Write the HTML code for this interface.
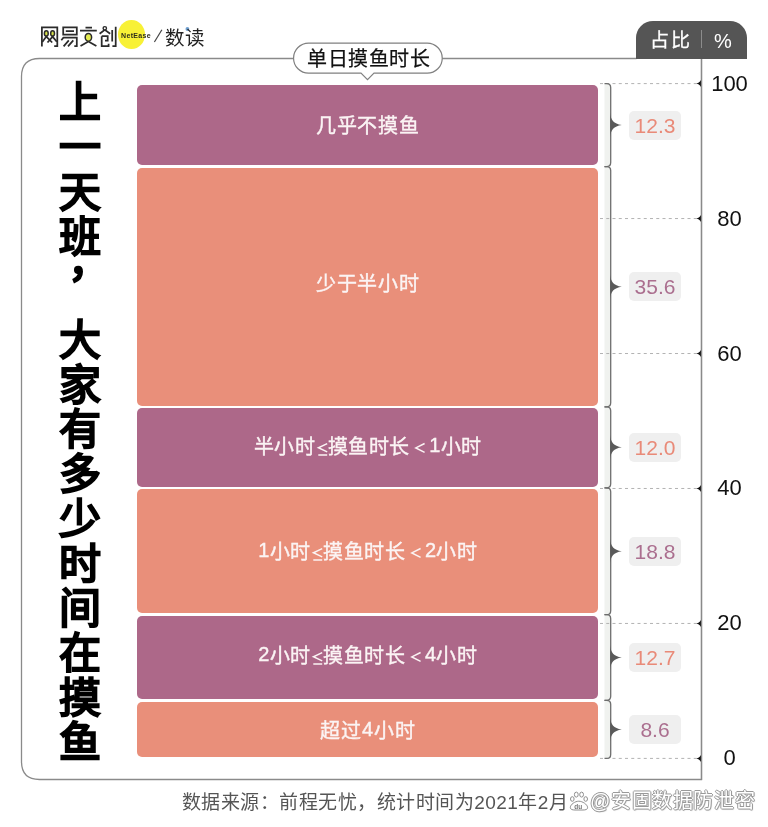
<!DOCTYPE html>
<html lang="zh-CN"><head><meta charset="utf-8"><title>chart</title>
<style>
html,body{margin:0;padding:0;background:#fff;}
body{width:768px;height:827px;position:relative;overflow:hidden;font-family:"Liberation Sans",sans-serif;-webkit-font-smoothing:antialiased;}
.a,.bt,.lb,.ax,.tt{will-change:transform;}
.a{position:absolute;}
svg{position:absolute;left:0;top:0;}
.bar{position:absolute;left:137px;width:461px;border-radius:5px;}
.bt{position:absolute;left:137px;width:461px;height:30px;line-height:30px;text-align:center;color:#fbf4f4;font-size:20px;letter-spacing:0.8px;text-indent:0.8px;-webkit-text-stroke:0.4px #fbf4f4;white-space:pre;}
.lb{position:absolute;left:628.8px;width:52px;height:29px;line-height:29px;border-radius:5px;background:#efefef;text-align:center;font-size:21px;}
.dg{position:relative;top:-2px;}
.le{display:inline-block;position:relative;width:13px;height:1px;}
.lt{display:inline-block;position:relative;width:20px;height:1px;}
.le svg,.lt svg{position:absolute;left:0;top:-12px;}
.ax{position:absolute;left:705px;width:49px;height:30px;line-height:30px;text-align:center;font-size:22px;color:#111;}
.tt{position:absolute;left:57px;width:46px;height:50px;line-height:50px;text-align:center;font-size:42px;color:#000;-webkit-text-stroke:2.3px #000;}
</style></head><body>
<svg width="768" height="827" viewBox="0 0 768 827">
<path d="M636.5 58.5 L39.5 58.5 Q21.5 58.5 21.5 76.5 L21.5 761.5 Q21.5 779.5 39.5 779.5 L701.5 779.5 L701.5 58" fill="none" stroke="#8a8a8a" stroke-width="1.3"/>
<rect x="604.5" y="84.1" width="6" height="673.8" fill="#f0f2ef"/>
<line x1="600" y1="83.60" x2="697" y2="83.60" stroke="#b2b2b2" stroke-width="1" stroke-dasharray="3 3.25"/>
<path d="M701.5 78.10 Q701 82.40 696.4 83.60 Q701 84.80 701.5 89.10 Z" fill="#111"/>
<line x1="600" y1="218.56" x2="697" y2="218.56" stroke="#b2b2b2" stroke-width="1" stroke-dasharray="3 3.25"/>
<path d="M701.5 213.06 Q701 217.36 696.4 218.56 Q701 219.76 701.5 224.06 Z" fill="#111"/>
<line x1="600" y1="353.52" x2="697" y2="353.52" stroke="#b2b2b2" stroke-width="1" stroke-dasharray="3 3.25"/>
<path d="M701.5 348.02 Q701 352.32 696.4 353.52 Q701 354.72 701.5 359.02 Z" fill="#111"/>
<line x1="600" y1="488.48" x2="697" y2="488.48" stroke="#b2b2b2" stroke-width="1" stroke-dasharray="3 3.25"/>
<path d="M701.5 482.98 Q701 487.28 696.4 488.48 Q701 489.68 701.5 493.98 Z" fill="#111"/>
<line x1="600" y1="623.44" x2="697" y2="623.44" stroke="#b2b2b2" stroke-width="1" stroke-dasharray="3 3.25"/>
<path d="M701.5 617.94 Q701 622.24 696.4 623.44 Q701 624.64 701.5 628.94 Z" fill="#111"/>
<line x1="600" y1="758.40" x2="697" y2="758.40" stroke="#b2b2b2" stroke-width="1" stroke-dasharray="3 3.25"/>
<path d="M701.5 752.90 Q701 757.20 696.4 758.40 Q701 759.60 701.5 763.90 Z" fill="#111"/>
<path d="M604.5 83.60 L606.7 83.60 Q610.7 83.60 610.7 87.60 L610.7 162.60 Q610.7 166.60 606.7 166.60 L604.5 166.60" fill="none" stroke="#6e6e6e" stroke-width="1.3"/>
<path d="M610.2 113.10 C610.8 120.10 613.5 123.80 621.8 125.10 C613.5 126.40 610.8 130.10 610.2 137.10 Z" fill="#5a5a5a"/>
<path d="M604.5 166.60 L606.7 166.60 Q610.7 166.60 610.7 170.60 L610.7 402.83 Q610.7 406.83 606.7 406.83 L604.5 406.83" fill="none" stroke="#6e6e6e" stroke-width="1.3"/>
<path d="M610.2 274.71 C610.8 281.71 613.5 285.41 621.8 286.71 C613.5 288.01 610.8 291.71 610.2 298.71 Z" fill="#5a5a5a"/>
<path d="M604.5 406.83 L606.7 406.83 Q610.7 406.83 610.7 410.83 L610.7 483.81 Q610.7 487.81 606.7 487.81 L604.5 487.81" fill="none" stroke="#6e6e6e" stroke-width="1.3"/>
<path d="M610.2 435.32 C610.8 442.32 613.5 446.02 621.8 447.32 C613.5 448.62 610.8 452.32 610.2 459.32 Z" fill="#5a5a5a"/>
<path d="M604.5 487.81 L606.7 487.81 Q610.7 487.81 610.7 491.81 L610.7 610.67 Q610.7 614.67 606.7 614.67 L604.5 614.67" fill="none" stroke="#6e6e6e" stroke-width="1.3"/>
<path d="M610.2 539.24 C610.8 546.24 613.5 549.94 621.8 551.24 C613.5 552.54 610.8 556.24 610.2 563.24 Z" fill="#5a5a5a"/>
<path d="M604.5 614.67 L606.7 614.67 Q610.7 614.67 610.7 618.67 L610.7 696.37 Q610.7 700.37 606.7 700.37 L604.5 700.37" fill="none" stroke="#6e6e6e" stroke-width="1.3"/>
<path d="M610.2 645.52 C610.8 652.52 613.5 656.22 621.8 657.52 C613.5 658.82 610.8 662.52 610.2 669.52 Z" fill="#5a5a5a"/>
<path d="M604.5 700.37 L606.7 700.37 Q610.7 700.37 610.7 704.37 L610.7 754.40 Q610.7 758.40 606.7 758.40 L604.5 758.40" fill="none" stroke="#6e6e6e" stroke-width="1.3"/>
<path d="M610.2 717.38 C610.8 724.38 613.5 728.08 621.8 729.38 C613.5 730.68 610.8 734.38 610.2 741.38 Z" fill="#5a5a5a"/>
<line x1="701.5" y1="58" x2="701.5" y2="780" stroke="#8a8a8a" stroke-width="1.3"/>
</svg>
<div class="bar" style="top:84.80px;height:80.60px;background:#ad6889"></div>
<div class="bt" style="top:111.10px;">几乎不摸鱼</div>
<div class="lb" style="top:110.60px;color:#e98a78">12.3</div>
<div class="bar" style="top:167.80px;height:237.83px;background:#e98f7a"></div>
<div class="bt" style="top:269.31px;">少于半小时</div>
<div class="lb" style="top:272.21px;color:#ab6f8f">35.6</div>
<div class="bar" style="top:408.03px;height:78.58px;background:#ad6889"></div>
<div class="bt" style="top:432.42px;letter-spacing:0.35px;text-indent:0.35px;">半小时<span class="le"><svg width="14" height="16" viewBox="0 0 14 16"><path d="M12.2 2.6 L3.4 6.75 L12.2 10.9 M3.3 14 L12.2 14" fill="none" stroke="#fbf4f4" stroke-width="1.5"/></svg></span>摸鱼时长<span class="lt"><svg width="20" height="16" viewBox="0 0 20 16"><path d="M15.6 2.5 L6.8 6.9 L15.6 11.3" fill="none" stroke="#fbf4f4" stroke-width="1.5"/></svg></span><span class="dg">1</span>小时</div>
<div class="lb" style="top:432.82px;color:#e98a78">12.0</div>
<div class="bar" style="top:489.01px;height:124.46px;background:#e98f7a"></div>
<div class="bt" style="top:536.84px;letter-spacing:0.35px;text-indent:0.35px;"><span class="dg">1</span>小时<span class="le"><svg width="14" height="16" viewBox="0 0 14 16"><path d="M12.2 2.6 L3.4 6.75 L12.2 10.9 M3.3 14 L12.2 14" fill="none" stroke="#fbf4f4" stroke-width="1.5"/></svg></span>摸鱼时长<span class="lt"><svg width="20" height="16" viewBox="0 0 20 16"><path d="M15.6 2.5 L6.8 6.9 L15.6 11.3" fill="none" stroke="#fbf4f4" stroke-width="1.5"/></svg></span><span class="dg">2</span>小时</div>
<div class="lb" style="top:536.74px;color:#ab6f8f">18.8</div>
<div class="bar" style="top:615.87px;height:83.30px;background:#ad6889"></div>
<div class="bt" style="top:640.52px;letter-spacing:0.35px;text-indent:0.35px;"><span class="dg">2</span>小时<span class="le"><svg width="14" height="16" viewBox="0 0 14 16"><path d="M12.2 2.6 L3.4 6.75 L12.2 10.9 M3.3 14 L12.2 14" fill="none" stroke="#fbf4f4" stroke-width="1.5"/></svg></span>摸鱼时长<span class="lt"><svg width="20" height="16" viewBox="0 0 20 16"><path d="M15.6 2.5 L6.8 6.9 L15.6 11.3" fill="none" stroke="#fbf4f4" stroke-width="1.5"/></svg></span><span class="dg">4</span>小时</div>
<div class="lb" style="top:643.02px;color:#e98a78">12.7</div>
<div class="bar" style="top:701.57px;height:55.63px;background:#e98f7a"></div>
<div class="bt" style="top:715.78px;">超过<span class="dg">4</span>小时</div>
<div class="lb" style="top:714.88px;color:#ab6f8f">8.6</div>
<div class="ax" style="top:68.60px">100</div>
<div class="ax" style="top:203.56px">80</div>
<div class="ax" style="top:338.52px">60</div>
<div class="ax" style="top:473.48px">40</div>
<div class="ax" style="top:608.44px">20</div>
<div class="ax" style="top:743.40px">0</div>
<div class="tt" style="top:77.80px">上</div>
<div class="tt" style="top:122.70px">一</div>
<div class="tt" style="top:167.60px">天</div>
<div class="tt" style="top:212.50px">班</div>
<div class="tt" style="top:237.5px;left:66px">，</div>
<div class="tt" style="top:316.00px">大</div>
<div class="tt" style="top:360.70px">家</div>
<div class="tt" style="top:405.40px">有</div>
<div class="tt" style="top:450.10px">多</div>
<div class="tt" style="top:494.80px">少</div>
<div class="tt" style="top:539.50px">时</div>
<div class="tt" style="top:584.20px">间</div>
<div class="tt" style="top:628.90px">在</div>
<div class="tt" style="top:673.60px">摸</div>
<div class="tt" style="top:718.30px">鱼</div>
<!-- tab -->
<div class="a" style="left:636.4px;top:20.5px;width:110.7px;height:37.7px;background:#555;border-radius:17px 17px 0 0;"></div>
<div class="a" style="left:650px;top:25.5px;height:30px;line-height:30px;font-size:19px;letter-spacing:2px;color:#fff;-webkit-text-stroke:0.3px #fff">占比</div>
<div class="a" style="left:701px;top:30px;width:1px;height:18px;background:#8c8c8c"></div>
<div class="a" style="left:714px;top:25.5px;height:30px;line-height:30px;font-size:20px;color:#fff">%</div>
<!-- bubble -->
<svg width="768" height="827" viewBox="0 0 768 827" style="pointer-events:none">
<path d="M308.6 43.1 L427.2 43.1 A15.05 15.05 0 0 1 427.2 73.2 L374 73.2 L367.5 79.7 L361 73.2 L308.6 73.2 A15.05 15.05 0 0 1 308.6 43.1 Z" fill="#fff" stroke="#808080" stroke-width="1.2"/>
</svg>
<div class="a" style="left:293.5px;top:43.5px;width:149px;height:30px;line-height:30px;text-align:center;font-size:20px;letter-spacing:0.6px;text-indent:0.6px;color:#111;-webkit-text-stroke:0.25px #111">单日摸鱼时长</div>
<!-- logo -->
<div class="a" style="left:117.5px;top:20.2px;width:27px;height:29.3px;border-radius:50%;background:#f8f136"></div>
<svg width="768" height="827" style="pointer-events:none">
<g fill="none" stroke="#2b2b2b" stroke-width="1.75" stroke-linecap="butt" stroke-linejoin="miter">
<path d="M41.9 46.6 L41.9 27.3 L57.3 27.3 L57.3 46.1 L54.2 46.1"/>
<path d="M42.3 42 L46.3 36.6 L52.2 42.5 M47.5 42.5 L52.6 36.6 L56.8 41.8"/>
<path d="M63.2 34.6 L63.2 27.3 L76.8 27.3 L76.8 34.6 Z M65.8 31.1 L74 31.1"/>
<path d="M61.3 40.2 L63.4 37.7 L76.8 37.7 L76.8 46.1 L74.3 46.1 M68.8 40.4 L63.6 46.4 M73.3 40.4 L68 46.4"/>
<path d="M85.5 27.5 L92 27.5 M80 30.7 L96.8 30.7 M80.5 46.1 L88.4 41.6 L96.4 46.1"/>
<path d="M99.6 33.8 L104.8 29.8 L110.2 33.8 M101.7 36.2 L107.7 36.2 L107.7 40.6 L105 40.6 M101.7 36.2 L101.7 46 L108.6 46 L108.6 43.8 M112.2 30 L112.2 41.6 M115.7 26.8 L115.7 46 L112.4 46"/>
</g>
<g fill="#d6e04a" stroke="#2b2b2b" stroke-width="1.5">
<ellipse cx="46.3" cy="33.4" rx="1.9" ry="2.7"/><ellipse cx="52.6" cy="33.4" rx="1.9" ry="2.7"/>
<ellipse cx="88.4" cy="37.3" rx="3.2" ry="3.9" fill="#e6ec50"/>
</g>
<circle cx="104.8" cy="28.3" r="1.7" fill="#fff" stroke="#2b2b2b" stroke-width="1.4"/>
<line x1="154.4" y1="42" x2="161.9" y2="29.8" stroke="#444" stroke-width="1.2"/>
<circle cx="187.4" cy="29" r="1.9" fill="#6f9fd0"/>
</svg>
<div class="a" style="left:120.5px;top:31px;font-size:7px;line-height:10px;font-weight:bold;color:#2e2e1a;letter-spacing:0.35px">NetEase</div>
<div class="a" style="left:165px;top:22.5px;height:30px;line-height:30px;font-size:19.5px;color:#222;">数读</div>
<!-- footer -->
<div class="a" style="left:181.5px;top:787.5px;height:30px;line-height:30px;font-size:19px;letter-spacing:0.48px;color:#555;white-space:pre">数据来源：前程无忧，统计时间为2021年2月</div>
<div class="a" style="left:590px;top:786px;height:30px;line-height:30px;font-size:20px;letter-spacing:0.6px;color:#fff;text-shadow:1px 0 0 #9a9a9a,-1px 0 0 #9a9a9a,0 1px 0 #9a9a9a,0 -1px 0 #9a9a9a,1px 1px 1px #bbb;white-space:pre">@安固数据防泄密</div>
<svg width="768" height="827" style="pointer-events:none">
<g fill="#fff" stroke="#8e8e8e" stroke-width="1">
<ellipse cx="576.3" cy="794.6" rx="1.9" ry="2.5"/><ellipse cx="581.6" cy="794.6" rx="1.9" ry="2.5"/><ellipse cx="572.3" cy="799" rx="1.8" ry="2.3"/><ellipse cx="585.7" cy="799" rx="1.8" ry="2.3"/>
<path d="M578.8 801.2 C575 801.2 570.5 804.5 570.3 807.3 C570.2 809.6 572.5 810 575 810 L583 810 C585.5 810 587.8 809.6 587.6 807.3 C587.3 804.5 582.6 801.2 578.8 801.2 Z"/>
</g>
<text x="574.3" y="808.6" font-family="Liberation Sans" font-size="6.5" font-weight="bold" fill="#777">du</text>
</svg>
</body></html>
